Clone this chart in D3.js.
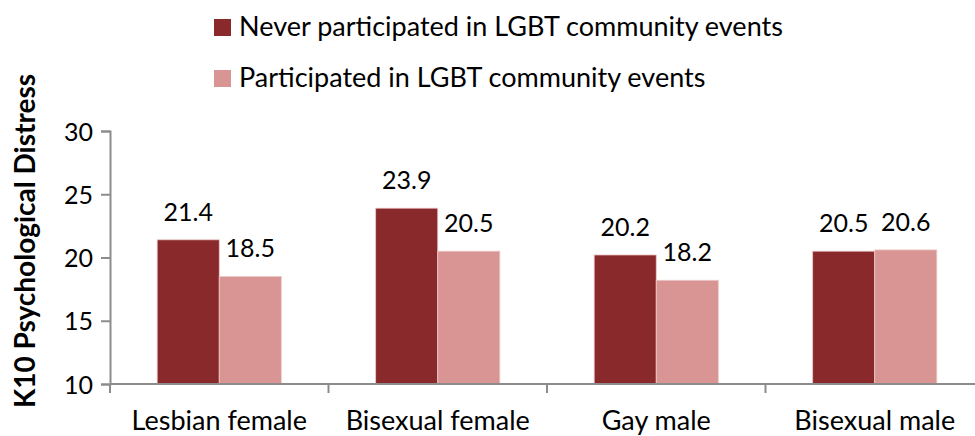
<!DOCTYPE html>
<html>
<head>
<meta charset="utf-8">
<script src="https://cdn.jsdelivr.net/npm/d3@7"></script>
<style>
  body { margin: 0; background: #fff; }
  text { font-family: Lato, "Open Sans", sans-serif; fill: #000; }
</style>
</head>
<body>
<div id="chart"></div>
<script>
// data
const groups = ['Lesbian female', 'Bisexual female', 'Gay male', 'Bisexual male']
const series = ['Never participated in LGBT community events', 'Participated in LGBT community events']
const never = [21.4, 23.9, 20.2, 20.5]
const participated = [18.5, 20.5, 18.2, 20.6]
const yTicks = [10, 15, 20, 25, 30]
const colors = ['#8a292b', '#d99594']

const width = 975, height = 436
const margin = { top: 131, right: -9, bottom: 52, left: 110 }

const svg = d3.select('#chart').append('svg')
  .attr('width', width)
  .attr('height', height)

const x = d3.scaleBand()
  .domain(groups)
  .range([margin.left, width - margin.right])
  .paddingInner(0).paddingOuter(0)

const x1 = d3.scaleBand()
  .domain([0, 1])
  .range([0, x.bandwidth()])
  .paddingInner(0).paddingOuter(0.76)

const y = d3.scaleLinear()
  .domain([10, 30])
  .range([height - margin.bottom, margin.top])

const axisColor = '#8c8c8c'

// y axis
const yAxis = svg.append('g')
  .attr('transform', `translate(${margin.left},0)`)
  .call(d3.axisLeft(y).tickValues(yTicks).tickSize(9).tickPadding(8))
yAxis.select('.domain').attr('stroke', axisColor).attr('stroke-width', 2)
yAxis.selectAll('.tick line').attr('stroke', axisColor).attr('stroke-width', 2)
yAxis.selectAll('.tick text').style('font-size', '25px').attr('dy', '0.36em')

// bars
const rows = groups.map((g, i) => ({ group: g, values: [never[i], participated[i]] }))

const gBars = svg.append('g')
  .selectAll('g')
  .data(rows)
  .join('g')
  .attr('transform', (d) => `translate(${x(d.group)},0)`)

gBars.selectAll('rect')
  .data((d) => d.values.map((v, k) => ({ k, v })))
  .join('rect')
  .attr('x', (d) => x1(d.k))
  .attr('y', (d) => y(d.v))
  .attr('width', x1.bandwidth())
  .attr('height', (d) => y(10) - y(d.v))
  .attr('fill', (d) => colors[d.k])
  .attr('stroke', '#ecc9c8')
  .attr('stroke-width', 0.8)

gBars.selectAll('text')
  .data((d) => d.values.map((v, k) => ({ k, v })))
  .join('text')
  .attr('x', (d) => x1(d.k) + x1.bandwidth() / 2)
  .attr('y', (d) => y(d.v) - 19)
  .attr('text-anchor', 'middle')
  .style('font-size', '25px')
  .text((d) => d3.format('.1f')(d.v))

// x axis
const xAxis = svg.append('g')
  .attr('transform', `translate(0,${y(10)})`)
  .call(d3.axisBottom(x).tickSize(0).tickPadding(0))
xAxis.select('.domain').remove()
xAxis.append('line')
  .attr('x1', margin.left).attr('x2', width)
  .attr('stroke', axisColor).attr('stroke-width', 2)
xAxis.selectAll('.sep')
  .data(groups)
  .join('line')
  .attr('class', 'sep')
  .attr('x1', (d) => x(d)).attr('x2', (d) => x(d))
  .attr('y1', 0).attr('y2', 9)
  .attr('stroke', axisColor).attr('stroke-width', 2)
xAxis.selectAll('.tick text')
  .attr('y', 46)
  .attr('dy', 0)
  .style('font-size', '27px')

// y title
svg.append('text')
  .attr('transform', `translate(35,${241}) rotate(-90)`)
  .attr('text-anchor', 'middle')
  .style('font-size', '28px')
  .style('font-weight', 'bold')
  .text('K10 Psychological Distress')

// legend
const legend = svg.append('g')
  .selectAll('g')
  .data(series)
  .join('g')
  .attr('transform', (d, i) => `translate(214,${19 + i * 51})`)
legend.append('rect')
  .attr('width', 17).attr('height', 17)
  .attr('fill', (d, i) => colors[i])
legend.append('text')
  .attr('x', 25).attr('y', 16.5)
  .style('font-size', '27px')
  .text((d) => d)
</script>
</body>
</html>
